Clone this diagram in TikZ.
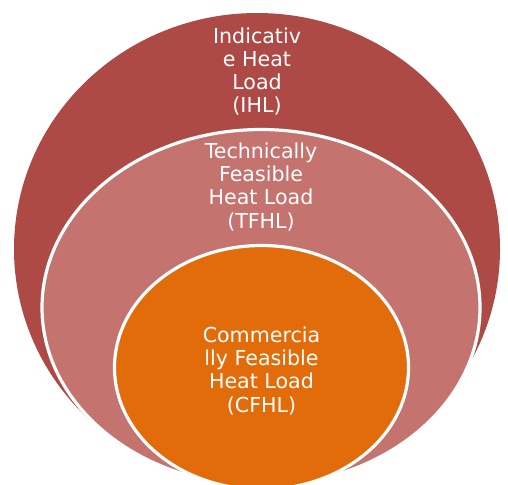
\documentclass[tikz,border=0pt]{standalone}
\usepackage{fontspec}
\setmainfont{DejaVu Sans}
\usetikzlibrary{shapes.geometric}
\usetikzlibrary{positioning}
\definecolor{ihlred}{HTML}{AE4A46}
\definecolor{tfhlrose}{HTML}{C4736F}
\definecolor{cfhlorange}{HTML}{E36C0A}
\tikzstyle{ring} = [ellipse, inner sep=0pt, outer sep=0pt]
\tikzstyle{caption} = [text=white, align=center, inner sep=0pt, font=\fontsize{10.3}{11.6}\selectfont]

\begin{document}
\begin{tikzpicture}[x=0.5pt, y=-0.5pt, node distance=7pt]
 \useasboundingbox (0,0) rectangle (508,484);

 \node (ihl) [ring, fill=ihlred, minimum width=243pt, minimum height=236pt] at (257,249) {};
 \node (tfhl) [ring, fill=tfhlrose, draw=white, line width=1.6pt, minimum width=219pt, minimum height=178pt] at (261,307.5) {};
 \node (cfhl) [ring, fill=cfhlorange, draw=white, line width=1.6pt, minimum width=147pt, minimum height=122pt] at (261.5,367.5) {};

 \node (ihltext) [caption, below=7pt of ihl.north] {Indicativ\\e Heat\\Load\\(IHL)};
 \node (tfhltext) [caption, below=6.5pt of tfhl.north] {Technically\\Feasible\\Heat Load\\(TFHL)};
 \node (cfhltext) [caption, below=40.5pt of cfhl.north] {Commercia\\lly Feasible\\Heat Load\\(CFHL)};
\end{tikzpicture}
\end{document}
